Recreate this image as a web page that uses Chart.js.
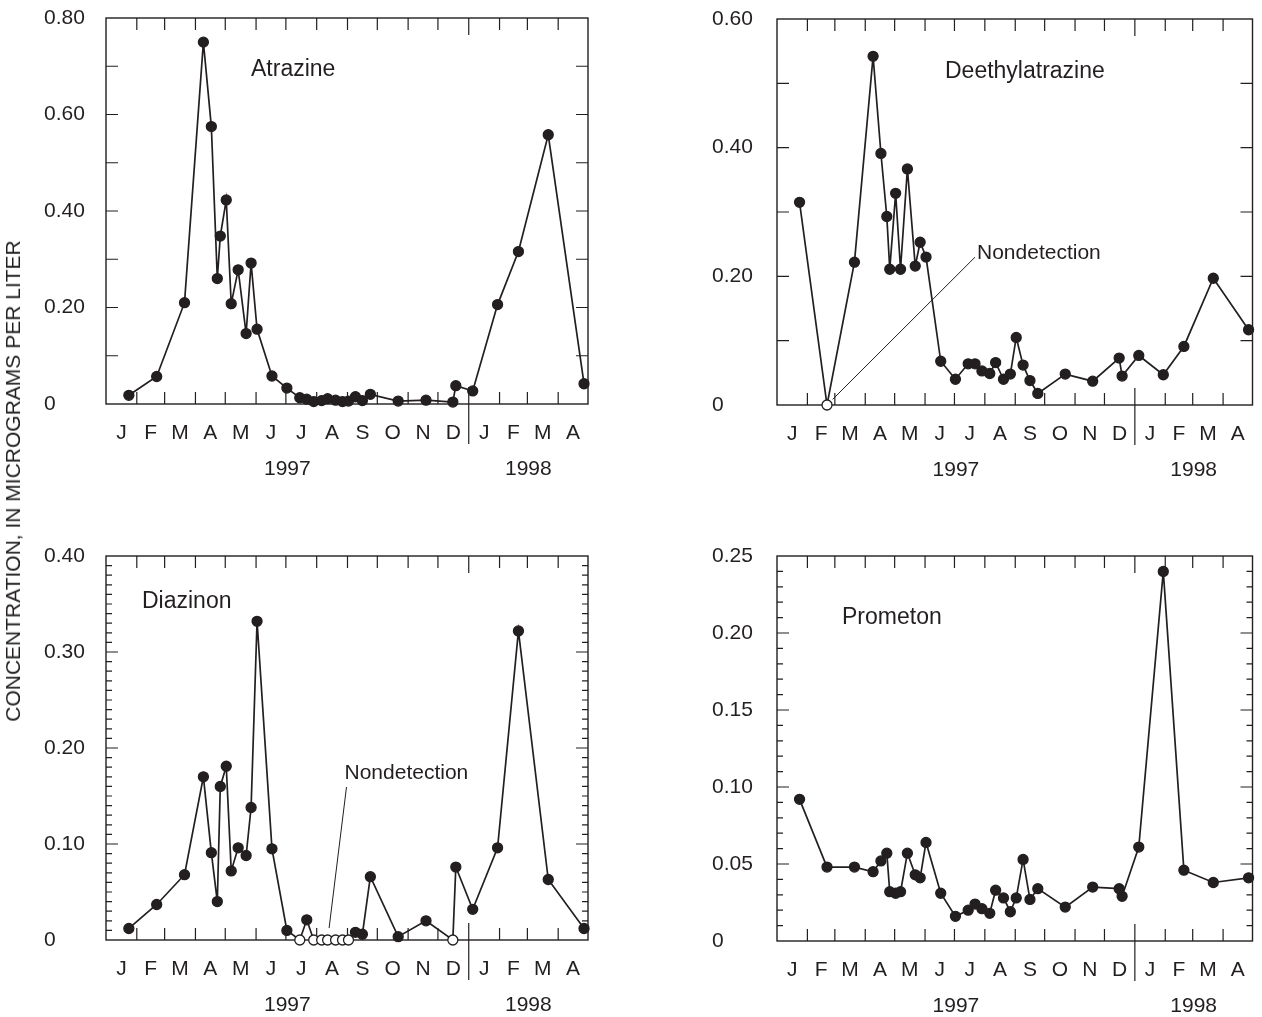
<!DOCTYPE html>
<html>
<head>
<meta charset="utf-8">
<script src="https://cdn.jsdelivr.net/npm/chart.js@4.4.0/dist/chart.umd.min.js"></script>
<style>
  html, body { margin: 0; padding: 0; background: #fff; }
  body { width: 1262px; height: 1017px; position: relative; overflow: hidden; }
  canvas { position: absolute; }
  #tituloY {
    position: absolute; left: 13px; top: 481px;
    transform: translate(-50%, -50%) rotate(-90deg);
    white-space: nowrap; color: #231f20;
    font: 21px "Liberation Sans", Arial, Helvetica, sans-serif;
  }
</style>
</head>
<body>
<canvas id="graficoAtrazina" width="600" height="510" style="left:0;top:0"></canvas>
<canvas id="graficoDesetil" width="642" height="510" style="left:620px;top:0"></canvas>
<canvas id="graficoDiazinon" width="600" height="500" style="left:0;top:520px"></canvas>
<canvas id="graficoPrometon" width="642" height="500" style="left:620px;top:520px"></canvas>
<div id="tituloY">CONCENTRATION, IN MICROGRAMS PER LITER</div>

<script>
const COLOR = '#231f20';
const FUENTE = '"Liberation Sans", Arial, Helvetica, sans-serif';

// Fechas de muestreo (comunes a los cuatro compuestos)
const fechasMuestreo = [
    '1997-01-24', '1997-02-21', '1997-03-21', '1997-04-09', '1997-04-17', '1997-04-23',
    '1997-04-26', '1997-05-02', '1997-05-07', '1997-05-14', '1997-05-22', '1997-05-27',
    '1997-06-02', '1997-06-17', '1997-07-02', '1997-07-15', '1997-07-22', '1997-07-29',
    '1997-08-06', '1997-08-12', '1997-08-20', '1997-08-27', '1997-09-02', '1997-09-09',
    '1997-09-16', '1997-09-24', '1997-10-22', '1997-11-19', '1997-12-16', '1997-12-19',
    '1998-01-05', '1998-01-30', '1998-02-20', '1998-03-22', '1998-04-27'
];

// Concentraciones, microgramos por litro
const atrazina = [
    0.018, 0.057, 0.210, 0.750, 0.575, 0.260, 0.348, 0.423, 0.208, 0.278, 0.146, 0.292,
    0.155, 0.058, 0.033, 0.013, 0.010, 0.005, 0.007, 0.011, 0.008, 0.005, 0.006, 0.015,
    0.007, 0.020, 0.006, 0.008, 0.004, 0.038, 0.027, 0.206, 0.316, 0.558, 0.042
];
const desetilatrazina = [
    0.315, 0, 0.222, 0.542, 0.391, 0.293, 0.211, 0.329, 0.211, 0.367, 0.216, 0.253,
    0.230, 0.068, 0.040, 0.064, 0.064, 0.053, 0.049, 0.066, 0.040, 0.048, 0.105, 0.062,
    0.038, 0.018, 0.048, 0.037, 0.073, 0.045, 0.077, 0.047, 0.091, 0.197, 0.117
];
const diazinon = [
    0.012, 0.037, 0.068, 0.170, 0.091, 0.040, 0.160, 0.181, 0.072, 0.096, 0.088, 0.138,
    0.332, 0.095, 0.010, 0, 0.021, 0, 0, 0, 0, 0, 0, 0.008,
    0.006, 0.066, 0.0035, 0.020, 0, 0.076, 0.032, 0.096, 0.322, 0.063, 0.012
];
const prometon = [
    0.092, 0.048, 0.048, 0.045, 0.052, 0.057, 0.032, 0.031, 0.032, 0.057, 0.043, 0.041,
    0.064, 0.031, 0.016, 0.020, 0.024, 0.021, 0.018, 0.033, 0.028, 0.019, 0.028, 0.053,
    0.027, 0.034, 0.022, 0.035, 0.034, 0.029, 0.061, 0.240, 0.046, 0.038, 0.041
];

// Muestras sin detección (círculo abierto)
const noDetDesetil = ['1997-02-21'];
const noDetDiazinon = ['1997-07-15', '1997-07-29', '1997-08-06', '1997-08-12',
                       '1997-08-20', '1997-08-27', '1997-09-02', '1997-12-16'];

const meses = ['J', 'F', 'M', 'A', 'M', 'J', 'J', 'A', 'S', 'O', 'N', 'D', 'J', 'F', 'M', 'A'];
const anios = ['1997', '1998'];

function dia(fecha) {
    const [a, m, d] = fecha.split('-').map(Number);
    return (Date.UTC(a, m - 1, d) - Date.UTC(1997, 0, 1)) / 864e5;
}

const limitesMes = [];
for (let i = 0; i <= meses.length; i++) {
    limitesMes.push((Date.UTC(1997, i, 1) - Date.UTC(1997, 0, 1)) / 864e5);
}
const inicio1998 = dia('1998-01-01');
const finEje = limitesMes[limitesMes.length - 1];
const centrosMes = meses.map((m, i) => (limitesMes[i] + limitesMes[i + 1]) / 2);
const centrosAnio = [inicio1998 / 2, (inicio1998 + finEje) / 2];

// Marco con marcas hacia adentro en los cuatro lados
const marcoEjes = {
    id: 'marcoEjes',
    beforeDatasetsDraw(chart, args, o) {
        const { ctx, chartArea: a, scales: { x, y } } = chart;
        ctx.save();
        ctx.strokeStyle = COLOR;
        ctx.lineWidth = 1.4;
        ctx.strokeRect(a.left, a.top, a.right - a.left, a.bottom - a.top);
        ctx.beginPath();
        limitesMes.forEach(d => {
            if (d <= x.min || d >= x.max) return;
            const px = x.getPixelForValue(d);
            if (d === inicio1998) {
                ctx.moveTo(px, a.top); ctx.lineTo(px, a.top + 17);
                ctx.moveTo(px, a.bottom - 17); ctx.lineTo(px, a.bottom + 40);
            } else {
                ctx.moveTo(px, a.top); ctx.lineTo(px, a.top + 12);
                ctx.moveTo(px, a.bottom); ctx.lineTo(px, a.bottom - 12);
            }
        });
        const n = Math.round(y.max / o.paso);
        const cada = Math.round(o.pasoMayor / o.paso);
        for (let i = 1; i < n; i++) {
            const py = y.getPixelForValue(i * o.paso);
            const largo = i % cada === 0 ? 12 : 6;
            ctx.moveTo(a.left, py); ctx.lineTo(a.left + largo, py);
            ctx.moveTo(a.right, py); ctx.lineTo(a.right - largo, py);
        }
        ctx.lineWidth = 1.2;
        ctx.stroke();
        ctx.restore();
    }
};

// Nombre del compuesto y nota de "Nondetection"
const rotulos = {
    id: 'rotulos',
    afterDatasetsDraw(chart, args, o) {
        const { ctx, chartArea: a, scales: { x, y } } = chart;
        ctx.save();
        ctx.fillStyle = COLOR;
        ctx.textBaseline = 'middle';
        ctx.font = `23px ${FUENTE}`;
        ctx.fillText(o.titulo, a.left + o.tx, a.top + o.ty);
        if (o.nota) {
            const n = o.nota;
            const tx = x.getPixelForValue(n.x), ty = y.getPixelForValue(n.y);
            ctx.font = `21px ${FUENTE}`;
            ctx.fillText('Nondetection', tx, ty);
            const px = x.getPixelForValue(dia(n.punto)), py = y.getPixelForValue(0);
            const sx = tx + n.ox, sy = ty + n.oy;
            const dx = sx - px, dy = sy - py, L = Math.hypot(dx, dy);
            ctx.beginPath();
            ctx.moveTo(sx, sy);
            ctx.lineTo(px + dx / L * n.gap, py + dy / L * n.gap);
            ctx.lineWidth = 1;
            ctx.strokeStyle = COLOR;
            ctx.stroke();
        }
        ctx.restore();
    }
};

function crearPanel(canvasId, valores, noDet, p) {
    const ctx = document.getElementById(canvasId).getContext('2d');
    const puntos = fechasMuestreo.map((f, i) => ({ x: dia(f), y: valores[i] }));
    const abierto = fechasMuestreo.map(f => noDet.includes(f));

    return new Chart(ctx, {
        type: 'line',
        data: {
            datasets: [{
                data: puntos,
                borderColor: COLOR,
                borderWidth: 1.7,
                tension: 0,
                fill: false,
                clip: false,
                pointRadius: 5,
                pointBorderWidth: 1.3,
                pointBorderColor: COLOR,
                pointBackgroundColor: c => abierto[c.dataIndex] ? '#fff' : COLOR
            }]
        },
        options: {
            responsive: false,
            devicePixelRatio: 1,
            animation: false,
            events: [],
            layout: { padding: p.padding },
            plugins: {
                legend: { display: false },
                tooltip: { enabled: false },
                marcoEjes: { paso: p.paso, pasoMayor: p.pasoMayor },
                rotulos: { titulo: p.titulo, tx: p.tx, ty: p.ty, nota: p.nota }
            },
            scales: {
                x: {
                    type: 'linear', position: 'bottom', weight: 0,
                    min: 0, max: finEje,
                    afterBuildTicks: s => { s.ticks = centrosMes.map(v => ({ value: v })); },
                    afterFit: s => { s.height = 48; },
                    grid: { display: false, drawTicks: false },
                    border: { display: false },
                    ticks: {
                        autoSkip: false, maxRotation: 0, padding: 17, color: COLOR,
                        font: { family: FUENTE, size: 21 },
                        callback: (v, i) => meses[i]
                    }
                },
                anio: {
                    type: 'linear', position: 'bottom', weight: 1,
                    min: 0, max: finEje,
                    afterBuildTicks: s => { s.ticks = centrosAnio.map(v => ({ value: v })); },
                    afterFit: s => { s.height = 30; },
                    grid: { display: false, drawTicks: false },
                    border: { display: false },
                    ticks: {
                        autoSkip: false, maxRotation: 0, padding: 5, color: COLOR,
                        font: { family: FUENTE, size: 21 },
                        callback: (v, i) => anios[i]
                    }
                },
                y: {
                    type: 'linear', position: 'left',
                    min: 0, max: p.max,
                    afterFit: s => { s.width = p.anchoY; },
                    grid: { display: false, drawTicks: false },
                    border: { display: false },
                    ticks: {
                        stepSize: p.pasoEtiqueta, crossAlign: 'far', padding: 0, color: COLOR,
                        font: { family: FUENTE, size: 21 },
                        callback: v => v === 0 ? '0' : v.toFixed(2)
                    }
                }
            }
        },
        plugins: [marcoEjes, rotulos]
    });
}

crearPanel('graficoAtrazina', atrazina, [], {
    padding: { left: 44, top: 18, right: 12, bottom: 28 }, anchoY: 62,
    max: 0.8, pasoEtiqueta: 0.2, paso: 0.1, pasoMayor: 0.1,
    titulo: 'Atrazine', tx: 145, ty: 52
});

crearPanel('graficoDesetil', desetilatrazina, noDetDesetil, {
    padding: { left: 92, top: 19, right: 2, bottom: 27 }, anchoY: 65,
    max: 0.6, pasoEtiqueta: 0.2, paso: 0.1, pasoMayor: 0.1,
    titulo: 'Deethylatrazine', tx: 168, ty: 53,
    nota: { x: 204, y: 0.236, ox: -2, oy: 4, gap: 8, punto: '1997-02-21' }
});

crearPanel('graficoDiazinon', diazinon, noDetDiazinon, {
    padding: { left: 44, top: 36, right: 12, bottom: 2 }, anchoY: 62,
    max: 0.4, pasoEtiqueta: 0.1, paso: 0.01, pasoMayor: 0.1,
    titulo: 'Diazinon', tx: 36, ty: 46,
    nota: { x: 240, y: 0.174, ox: 2, oy: 14, gap: 12, punto: '1997-08-12' }
});

crearPanel('graficoPrometon', prometon, [], {
    padding: { left: 92, top: 36, right: 2, bottom: 1 }, anchoY: 65,
    max: 0.25, pasoEtiqueta: 0.05, paso: 0.01, pasoMayor: 0.05,
    titulo: 'Prometon', tx: 65, ty: 62
});
</script>
</body>
</html>
